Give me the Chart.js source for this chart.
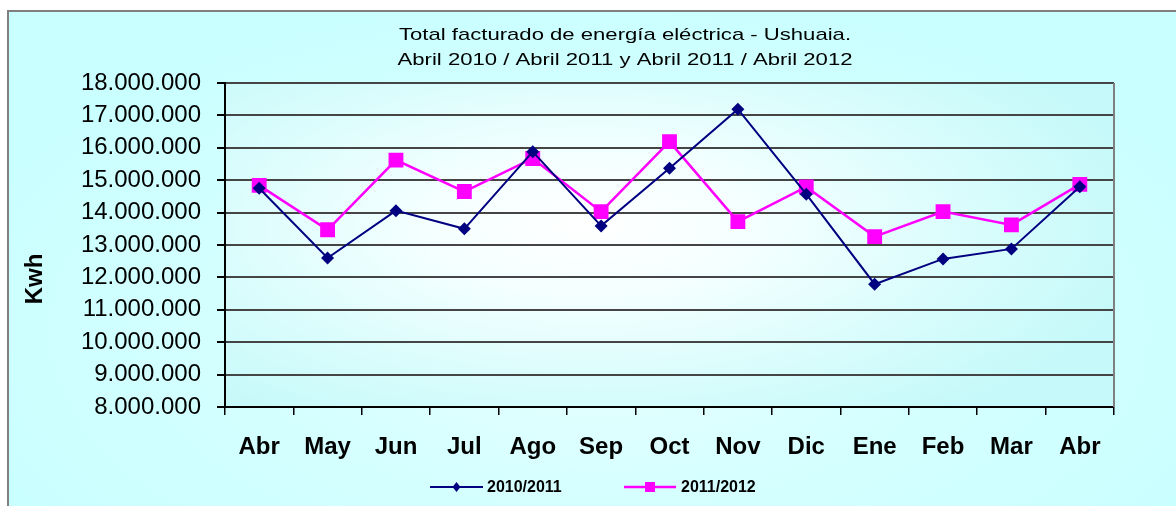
<!DOCTYPE html>
<html><head><meta charset="utf-8">
<script src="https://cdn.jsdelivr.net/npm/chart.js@4.4.1/dist/chart.umd.min.js"></script>
<style>html,body{margin:0;padding:0;background:#fff;overflow:hidden}#wrap{width:1176px;height:506px;position:relative}</style>
</head><body><div id="wrap"><canvas id="c" width="1176" height="506"></canvas></div>
<script>
const categories = ['Abr','May','Jun','Jul','Ago','Sep','Oct','Nov','Dic','Ene','Feb','Mar','Abr'];
const series2010_2011 = [14750000,12600000,14060000,13500000,15880000,13590000,15370000,17190000,14570000,11790000,12570000,12880000,14800000];
const series2011_2012 = [14840000,13470000,15620000,14650000,15670000,14030000,16190000,13720000,14790000,13260000,14030000,13620000,14870000];
const seriesNames = ['2010/2011','2011/2012'];
const titleLines = ['Total facturado de energía eléctrica - Ushuaia.','Abril 2010 / Abril 2011 y Abril 2011 / Abril 2012'];
const yAxisTitle = 'Kwh';
const yMin = 8000000, yMax = 18000000, yStep = 1000000;

const NAVY = '#000080', MAGENTA = '#ff00ff';
const FONT = '"Liberation Sans", Arial, sans-serif';
function fmt(v){ return String(Math.round(v)).replace(/\B(?=(\d{3})+(?!\d))/g,'.'); }

const decor = {
  id:'decor',
  beforeDraw(chart){
    const ctx=chart.ctx, a=chart.chartArea, W=chart.width, H=chart.height;
    ctx.save();
    ctx.fillStyle='#ffffff'; ctx.fillRect(0,0,W,H);
    ctx.save();
    ctx.translate(600,330); ctx.scale(1,0.5);
    let g=ctx.createRadialGradient(0,0,0,0,0,700);
    g.addColorStop(0,'#eaffff'); g.addColorStop(0.45,'#d6ffff'); g.addColorStop(1,'#c9ffff');
    ctx.fillStyle=g; ctx.fillRect(-700,-800,1800,1600);
    ctx.restore();
    ctx.fillStyle='#ffffff'; ctx.fillRect(0,0,W,10); ctx.fillRect(0,0,7,H);
    ctx.save();
    ctx.beginPath(); ctx.rect(a.left,a.top,a.right-a.left,a.bottom-a.top); ctx.clip();
    ctx.translate(590,225); ctx.scale(1,0.42);
    let g2=ctx.createRadialGradient(0,0,0,0,0,560);
    g2.addColorStop(0,'#ffffff'); g2.addColorStop(0.3,'#f4ffff'); g2.addColorStop(0.7,'#d8fcfc'); g2.addColorStop(1,'#c6f9f9');
    ctx.fillStyle=g2; ctx.fillRect(-800,-1000,1600,2000);
    ctx.restore();
    ctx.strokeStyle='#808080'; ctx.lineWidth=2;
    ctx.beginPath(); ctx.moveTo(8,H); ctx.lineTo(8,11); ctx.lineTo(W,11); ctx.stroke();
    ctx.restore();
  },
  afterDraw(chart){
    const ctx=chart.ctx, a=chart.chartArea;
    ctx.save();
    ctx.strokeStyle='#808080'; ctx.lineWidth=2;
    ctx.beginPath(); ctx.moveTo(a.right,a.top); ctx.lineTo(a.right,a.bottom); ctx.stroke();
    ctx.fillStyle='#000'; ctx.textAlign='center'; ctx.textBaseline='alphabetic';
    ctx.font='17px '+FONT;
    const bl=[40,65];
    titleLines.forEach((t,i)=>{ ctx.save(); ctx.translate(625,bl[i]); ctx.scale(1.3,1); ctx.fillText(t,0,0); ctx.restore(); });
    ctx.save(); ctx.translate(35,279); ctx.rotate(-Math.PI/2);
    ctx.font='bold 24px '+FONT; ctx.textBaseline='middle'; ctx.fillText(yAxisTitle,0,0);
    ctx.restore();
    const items=[{x1:430,x2:483,tx:487,s:'d'},{x1:624,x2:676,tx:681,s:'s'}];
    const y=487;
    items.forEach((it,i)=>{
      const ds=chart.data.datasets[i];
      ctx.strokeStyle=ds.borderColor; ctx.lineWidth=ds.borderWidth;
      ctx.beginPath(); ctx.moveTo(it.x1,y); ctx.lineTo(it.x2,y); ctx.stroke();
      const mx=(it.x1+it.x2)/2;
      ctx.fillStyle=ds.pointBackgroundColor;
      if(it.s==='d'){ ctx.beginPath(); ctx.moveTo(mx,y-5); ctx.lineTo(mx+4,y); ctx.lineTo(mx,y+5); ctx.lineTo(mx-4,y); ctx.closePath(); ctx.fill(); }
      else { ctx.fillRect(mx-5,y-5,10,10); }
      ctx.fillStyle='#000'; ctx.textAlign='left'; ctx.textBaseline='middle';
      ctx.font='bold 16px '+FONT;
      ctx.fillText(ds.label,it.tx,y+1);
    });
    ctx.restore();
  }
};

new Chart(document.getElementById('c'),{
  type:'line',
  data:{
    labels:categories,
    datasets:[
      {label:seriesNames[0],data:series2010_2011,borderColor:NAVY,backgroundColor:NAVY,pointBackgroundColor:NAVY,pointBorderColor:NAVY,borderWidth:2,pointStyle:'rectRot',pointRadius:6.5,pointBorderWidth:0,tension:0,fill:false},
      {label:seriesNames[1],data:series2011_2012,borderColor:MAGENTA,backgroundColor:MAGENTA,pointBackgroundColor:MAGENTA,pointBorderColor:MAGENTA,borderWidth:2.5,pointStyle:'rect',pointRadius:10.5,pointBorderWidth:0,tension:0,fill:false}
    ]
  },
  options:{
    responsive:false, animation:false, devicePixelRatio:1,
    layout:{padding:{left:0,right:62,top:83,bottom:0}},
    plugins:{legend:{display:false},title:{display:false},tooltip:{enabled:false}},
    scales:{
      x:{
        offset:true,
        grid:{offset:true,drawOnChartArea:false,drawTicks:true,tickLength:8,color:'#000',lineWidth:1.5},
        border:{display:true,color:'#000',width:2},
        ticks:{color:'#000',font:{family:FONT,size:24,weight:'bold'},padding:18,maxRotation:0,autoSkip:false},
        afterFit(s){ s.height=99; }
      },
      y:{
        min:yMin,max:yMax,
        grid:{color:'#454545',lineWidth:2,tickColor:'#000',tickLength:8},
        border:{display:true,color:'#000',width:2},
        ticks:{stepSize:yStep,color:'#000',font:{family:FONT,size:24},padding:16,callback:v=>fmt(v)},
        afterFit(s){ s.width=225; }
      }
    }
  },
  plugins:[decor]
});
</script>
</body></html>
